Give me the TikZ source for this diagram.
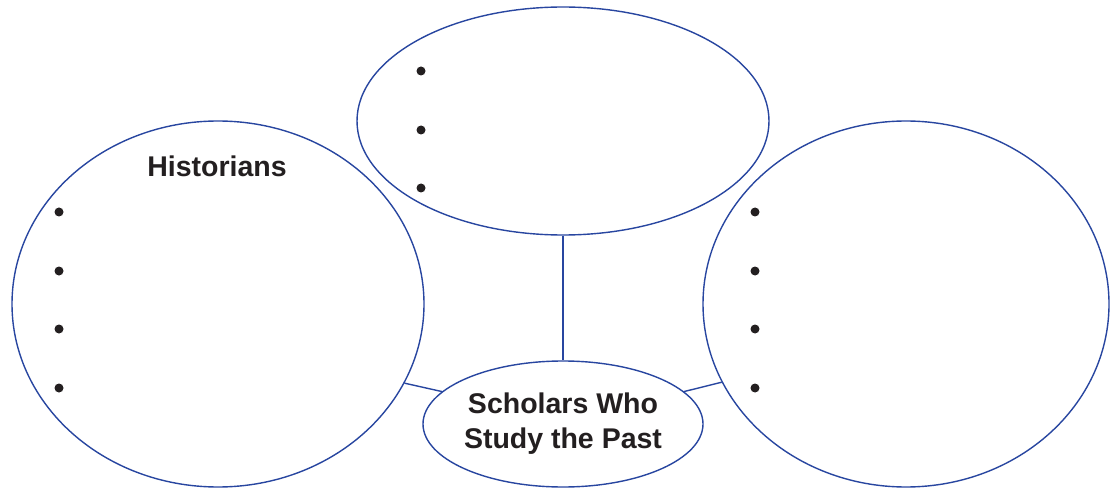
\documentclass[tikz,border=0pt]{standalone}
\usepackage{fontspec}
\setmainfont{Liberation Sans}
\usepackage{tikz}
\usetikzlibrary{shapes.geometric}
\definecolor{mapblue}{RGB}{40,70,160}
\definecolor{inkblack}{RGB}{35,31,32}

\tikzset{
  bubble/.style={ellipse, draw=mapblue, line width=1.4pt, inner sep=0pt},
  heading/.style={font=\fontsize{28.5}{35}\selectfont\bfseries, text=inkblack, align=center},
  link/.style={draw=mapblue, line width=1.4pt}
}

\begin{document}
\begin{tikzpicture}[x=1pt,y=-1pt]
    \useasboundingbox[fill=white] (0,0) rectangle (1111,489);
    \node[bubble, minimum width=412pt, minimum height=366pt] (hist) at (218,304) {};
    \node[bubble, minimum width=412pt, minimum height=228pt] (top) at (563,121) {};
    \node[bubble, minimum width=406pt, minimum height=366pt] (right) at (906,304) {};
    \node[bubble, heading, minimum width=280pt, minimum height=126pt] (scholars) at (563,424) {Scholars Who\\Study the Past};
    \node[heading] (histlabel) at (217,166) {Historians};
    \foreach \y in {212,271,329,388}
    {
      \fill[inkblack] (59,\y) circle (4.5pt);
      \fill[inkblack] (755,\y) circle (4.5pt);
    }
    \foreach \y in {71,130,188}
    {
      \fill[inkblack] (421,\y) circle (4.5pt);
    }
    \draw[link] (top.south) -- (scholars.north);
    \draw[link] (hist.-23) -- (scholars.165);
    \draw[link] (scholars.15) -- (right.-157);
\end{tikzpicture}
\end{document}
